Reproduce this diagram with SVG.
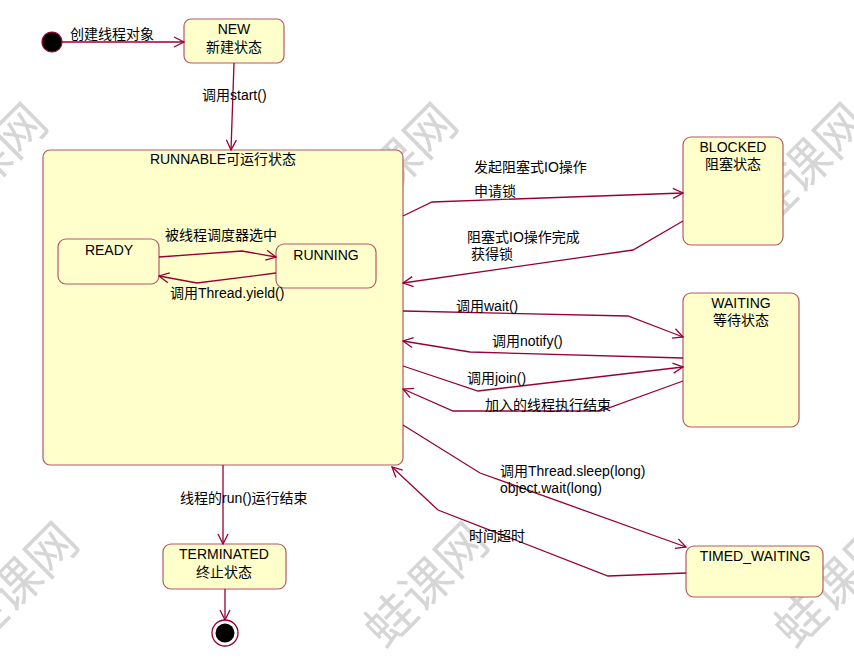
<svg xmlns="http://www.w3.org/2000/svg" width="854" height="671" viewBox="0 0 854 671">
<defs>
<style>
.wm{font-family:"Noto Sans CJK SC",sans-serif;font-size:50px;fill:#d6d6d6;text-anchor:middle;dominant-baseline:central}
.box{fill:#ffffcc;stroke:#b5586a;stroke-width:1.2}
.t{font-family:"Liberation Sans","Noto Sans CJK SC",sans-serif;font-size:14px;fill:#000}
.c{text-anchor:middle}
.ln{fill:none;stroke:#990033;stroke-width:1.3}
</style>
<marker id="ah" markerWidth="12" markerHeight="12" refX="11" refY="6" orient="auto" markerUnits="userSpaceOnUse">
<path d="M1,1 L11,6 L1,11" fill="none" stroke="#990033" stroke-width="1.3"/>
</marker>
</defs>
<rect width="854" height="671" fill="#fff"/>
<g id="watermarks">
<text class="wm" transform="translate(-18,163) rotate(-45)">蛙课网</text>
<text class="wm" transform="translate(392,163) rotate(-45)">蛙课网</text>
<text class="wm" transform="translate(802,163) rotate(-45)">蛙课网</text>
<text class="wm" transform="translate(13,582) rotate(-45)">蛙课网</text>
<text class="wm" transform="translate(423,582) rotate(-45)">蛙课网</text>
<text class="wm" transform="translate(833,582) rotate(-45)">蛙课网</text>
</g>
<g id="start"><circle cx="52" cy="42" r="10" fill="#000" stroke="#990033" stroke-width="1.2"/></g>
<g id="new"><rect class="box" x="184" y="19" width="100" height="44" rx="7"/>
<text class="t c" x="234" y="34">NEW</text><text class="t c" x="234" y="52">新建状态</text></g>
<g id="runnable"><rect class="box" x="43" y="150" width="360" height="315" rx="7"/>
<text class="t c" x="223" y="164">RUNNABLE可运行状态</text></g>
<g id="ready"><rect class="box" x="58" y="239" width="101" height="45" rx="8"/>
<text class="t c" x="109" y="255">READY</text></g>
<g id="running"><rect class="box" x="276" y="244" width="100" height="44" rx="8"/>
<text class="t c" x="326" y="260">RUNNING</text></g>
<g id="blocked"><rect class="box" x="683" y="137" width="100" height="108" rx="8"/>
<text class="t c" x="733" y="152">BLOCKED</text><text class="t c" x="733" y="169">阻塞状态</text></g>
<g id="waiting"><rect class="box" x="683" y="293" width="116" height="134" rx="8"/>
<text class="t c" x="741" y="308">WAITING</text><text class="t c" x="741" y="325">等待状态</text></g>
<g id="timed_waiting"><rect class="box" x="686" y="546" width="137" height="51" rx="8"/>
<text class="t c" x="755" y="561">TIMED_WAITING</text></g>
<g id="terminated"><rect class="box" x="163" y="544" width="123" height="45" rx="8"/>
<text class="t c" x="224" y="559">TERMINATED</text><text class="t c" x="224" y="577">终止状态</text></g>
<g id="end"><circle cx="225" cy="633" r="13" fill="#fff" stroke="#990033" stroke-width="1.3"/><circle cx="225" cy="633" r="9.5" fill="#000"/></g>
<g id="connectors">
<path class="ln" d="M62,42 L184,42" marker-end="url(#ah)"/>
<path class="ln" d="M234,63 L231,150" marker-end="url(#ah)"/>
<path class="ln" d="M159,257 L242,251 L276,257" marker-end="url(#ah)"/>
<path class="ln" d="M276,273 L197,283 L159,276" marker-end="url(#ah)"/>
<path class="ln" d="M403,216 L432,202 L683,193" marker-end="url(#ah)"/>
<path class="ln" d="M683,221 L633,250 L403,283" marker-end="url(#ah)"/>
<path class="ln" d="M403,311 L628,316 L683,337" marker-end="url(#ah)"/>
<path class="ln" d="M683,358 L470,352 L403,341" marker-end="url(#ah)"/>
<path class="ln" d="M403,366 L478,391 L683,367" marker-end="url(#ah)"/>
<path class="ln" d="M683,381 L600,411 L453,411 L403,389" marker-end="url(#ah)"/>
<path class="ln" d="M403,425 L480,473 L686,547" marker-end="url(#ah)"/>
<path class="ln" d="M686,573 L608,576 L438,510 L392,467" marker-end="url(#ah)"/>
<path class="ln" d="M223,465 L223,544" marker-end="url(#ah)"/>
<path class="ln" d="M225,589 L225,620" marker-end="url(#ah)"/>
</g>
<g id="labels">
<text class="t" x="70" y="39">创建线程对象</text>
<text class="t" x="202" y="100">调用start()</text>
<text class="t" x="165" y="240">被线程调度器选中</text>
<text class="t" x="170" y="298">调用Thread.yield()</text>
<text class="t" x="474" y="172">发起阻塞式IO操作</text>
<text class="t" x="474" y="196">申请锁</text>
<text class="t" x="467" y="242">阻塞式IO操作完成</text>
<text class="t" x="471" y="259">获得锁</text>
<text class="t" x="456" y="311">调用wait()</text>
<text class="t" x="492" y="346">调用notify()</text>
<text class="t" x="467" y="383">调用join()</text>
<text class="t" x="485" y="410">加入的线程执行结束</text>
<text class="t" x="500" y="476">调用Thread.sleep(long)</text>
<text class="t" x="500" y="493">object.wait(long)</text>
<text class="t" x="469" y="541">时间超时</text>
<text class="t" x="180" y="503">线程的run()运行结束</text>
</g>
</svg>
